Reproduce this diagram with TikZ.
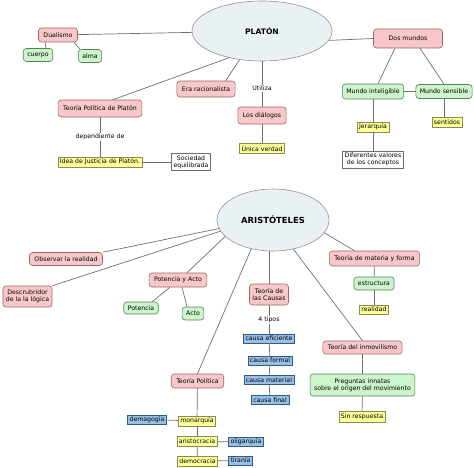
\documentclass[tikz,border=0pt]{standalone}
\usepackage{fontspec}
\setmainfont{DejaVu Sans}
\usetikzlibrary{shapes.geometric}
\definecolor{rosa}{HTML}{F8C8C8}
\definecolor{rosaborde}{HTML}{9A6666}
\definecolor{verde}{HTML}{CCF5CC}
\definecolor{verdeborde}{HTML}{5A805A}
\definecolor{amarillo}{HTML}{FFFF99}
\definecolor{amarilloborde}{HTML}{8A8A55}
\definecolor{azul}{HTML}{99C0E6}
\definecolor{azulborde}{HTML}{2E5C8A}
\definecolor{nube}{HTML}{E9F1F4}
\definecolor{nubeborde}{HTML}{A08A9A}
\definecolor{linea}{HTML}{6E6E6E}

\begin{document}
\begin{tikzpicture}[x=1pt,y=-1pt,
  every node/.style={font=\fontsize{6.2}{7.4}\selectfont},
  idea/.style={ellipse,draw=nubeborde,fill=nube,line width=0.6pt,inner sep=0pt,font=\bfseries\fontsize{7.6}{9}\selectfont},
  tema/.style={draw=rosaborde,fill=rosa,rounded corners=3pt,line width=0.6pt,inner xsep=5pt,minimum height=14pt,align=center},
  rama/.style={draw=verdeborde,fill=verde,rounded corners=3pt,line width=0.6pt,inner xsep=4pt,minimum height=13pt,align=center},
  nota/.style={draw=amarilloborde,fill=amarillo,line width=0.5pt,inner xsep=2pt,inner ysep=1.5pt,minimum height=10pt},
  tipo/.style={draw=azulborde,fill=azul,line width=0.5pt,inner xsep=2pt,inner ysep=1pt,minimum height=9pt},
  caja/.style={draw=linea,fill=white,line width=0.5pt,inner sep=2pt,align=center},
  enlace/.style={draw=linea,line width=0.7pt},
  etiqueta/.style={fill=white,inner sep=1pt}]
  \useasboundingbox (0,0) rectangle (474,467);

  % Platon
  \node[idea,minimum width=140pt,minimum height=60pt] (platon) at (262,31) {PLATÓN};
  \node[tema] (dualismo) at (58,35) {Dualismo};
  \node[rama] (cuerpo) at (38,55) {cuerpo};
  \node[rama] (alma) at (90,56) {alma};
  \node[tema,minimum height=17pt] (tpp) at (100,108.5) {Teoría Política de Platón};
  \node[nota] (justicia) at (100,162) {Idea de Justicia de Platón.};
  \node[caja] (sociedad) at (191,162) {Sociedad\\equilibrada};
  \node[tema,minimum height=16pt] (era) at (206,89) {Era racionalista};
  \node[tema,minimum height=17pt] (dialogos) at (262,115.5) {Los diálogos};
  \node[nota] (verdad) at (262,148.5) {Única verdad};
  \node[tema,minimum height=19pt,minimum width=69pt] (dosmundos) at (408,38.5) {Dos mundos};
  \node[rama,minimum height=15pt] (inteligible) at (373,91.5) {Mundo inteligible};
  \node[rama,minimum height=14pt] (sensible) at (444,91.5) {Mundo sensible};
  \node[nota] (jerarquia) at (373,127) {Jerarquía};
  \node[nota] (sentidos) at (447,122.5) {sentidos};
  \node[caja] (valores) at (373,159.5) {Diferentes valores\\de los conceptos};

  \draw[enlace] (dualismo) -- (platon);
  \draw[enlace] ([xshift=-13pt]dualismo.south) -- ([xshift=8pt]cuerpo.north);
  \draw[enlace] ([xshift=16pt]dualismo.south) -- ([xshift=-10pt]alma.north);
  \draw[enlace] ([xshift=13pt]tpp.north) -- (platon.219);
  \draw[enlace] (tpp) -- node[etiqueta] {dependiente de} (justicia);
  \draw[enlace] (justicia) -- (sociedad);
  \draw[enlace] (era.23) -- (platon.232);
  \draw[enlace] (platon.south) -- node[etiqueta,pos=0.6] {Utiliza} (dialogos.north);
  \draw[enlace] (dialogos) -- (verdad);
  \draw[enlace] (platon.-8) -- (dosmundos.west);
  \draw[enlace] ([xshift=-13pt]dosmundos.south) -- ([xshift=5pt]inteligible.north);
  \draw[enlace] ([xshift=12pt]dosmundos.south) -- (sensible.north);
  \draw[enlace] (inteligible) -- (sensible);
  \draw[enlace] (inteligible) -- (jerarquia);
  \draw[enlace] (jerarquia) -- (valores);
  \draw[enlace] (sensible.south) -- (sensible.south |- sentidos.north);

  % Aristoteles
  \node[idea,minimum width=112pt,minimum height=62pt,font=\bfseries\fontsize{8.4}{10}\selectfont] (arist) at (273,220) {ARISTÓTELES};
  \node[tema,minimum height=13pt] (observar) at (66,259) {Observar la realidad};
  \node[tema,minimum height=21pt,inner xsep=3pt] (logica) at (27.5,296.5) {Descrubridor\\de la la lógica};
  \node[tema] (potacto) at (178,280) {Potencia y Acto};
  \node[rama,minimum height=12pt] (potencia) at (141,308) {Potencia};
  \node[rama] (acto) at (193,313.5) {Acto};
  \node[tema,minimum height=21pt,inner xsep=3pt] (causas) at (269,294.5) {Teoría de\\las Causas};
  \node[tipo] (eficiente) at (269,338.5) {causa eficiente};
  \node[tipo] (formal) at (270,360.5) {causa formal};
  \node[tipo] (material) at (269,380) {causa material};
  \node[tipo] (final) at (270,400) {causa final};
  \node[tema] (tpol) at (197.5,381) {Teoría Política};
  \node[nota] (monarquia) at (197,421) {monarquía};
  \node[tipo] (demagogia) at (147,419.5) {demagogia};
  \node[nota] (aristocracia) at (197,441.5) {aristocracia};
  \node[tipo] (oligarquia) at (246,442) {oligarquía};
  \node[nota] (democracia) at (197.5,461) {democracia};
  \node[tipo] (tirania) at (240.5,460.5) {tiranía};
  \node[tema,minimum height=15pt] (materia) at (374.5,258.5) {Teoría de materia y forma};
  \node[rama] (estructura) at (374,283.5) {estructura};
  \node[nota,minimum height=9pt] (realidad) at (374,309.5) {realidad};
  \node[tema,minimum height=13pt] (inmov) at (362.5,347.5) {Teoría del inmovilismo};
  \node[rama,minimum height=22pt] (preguntas) at (362.5,385) {Preguntas innatas\\sobre el origen del movimiento};
  \node[nota,minimum height=11pt] (respuesta) at (362,416.5) {Sin respuesta};

  \draw[enlace] (observar.north east) -- (arist.189);
  \draw[enlace] (logica.north east) -- (arist.192);
  \draw[enlace] ([xshift=9pt]potacto.north) -- (arist.199);
  \draw[enlace] ([xshift=-8pt]potacto.south) -- ([xshift=11pt]potencia.north);
  \draw[enlace] ([xshift=4pt]potacto.south) -- ([xshift=-6pt]acto.north);
  \draw[enlace] (tpol.north) -- (arist.233);
  \draw[enlace] (tpol) -- (monarquia);
  \draw[enlace] (monarquia) -- (aristocracia);
  \draw[enlace] (aristocracia) -- (democracia);
  \draw[enlace] (demagogia) -- (monarquia);
  \draw[enlace] (aristocracia) -- (oligarquia);
  \draw[enlace] (democracia) -- (tirania);
  \draw[enlace] (causas.north) -- (causas.north |- arist.south);
  \draw[enlace] (causas) -- node[etiqueta] {4 tipos} (eficiente);
  \draw[enlace] (eficiente) -- (formal);
  \draw[enlace] (formal) -- (material);
  \draw[enlace] (material) -- (final);
  \draw[enlace] (arist.-14) -- ([xshift=-20pt]materia.north);
  \draw[enlace] (materia) -- (estructura);
  \draw[enlace] (estructura) -- (realidad);
  \draw[enlace] (arist.-55) -- (inmov.north);
  \draw[enlace] (inmov) -- (preguntas);
  \draw[enlace] (preguntas) -- (respuesta);
\end{tikzpicture}
\end{document}
